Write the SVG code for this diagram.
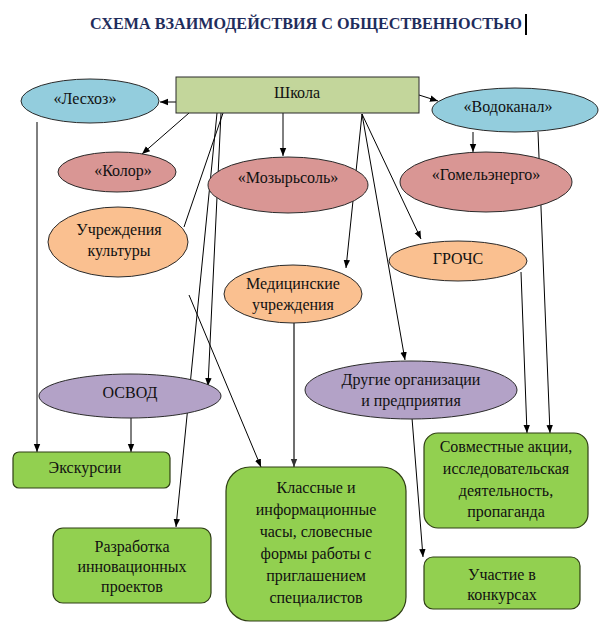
<svg xmlns="http://www.w3.org/2000/svg" width="609" height="632" viewBox="0 0 609 632" font-family="'Liberation Serif', 'Times New Roman', serif">
<defs>
<marker id="arr" markerUnits="userSpaceOnUse" markerWidth="8" markerHeight="8" viewBox="0 0 8 8" refX="8" refY="4" orient="auto">
<path d="M0,0.8 L8,4 L0,7.2 Z" fill="#000"/>
</marker>
<marker id="arrg" markerUnits="userSpaceOnUse" markerWidth="8" markerHeight="8" viewBox="0 0 8 8" refX="8" refY="4" orient="auto">
<path d="M0,0.8 L8,4 L0,7.2 Z" fill="#333"/>
</marker>
<style>
text{font-size:16px;fill:#111;text-anchor:middle;dominant-baseline:middle}
.title{font-size:16px;font-weight:bold;fill:#1f2d5c}
.shape{stroke:#2a2a2a;stroke-width:1}
.blue{fill:#93cddd}
.pink{fill:#d99694}
.orange{fill:#fac090}
.purple{fill:#b3a2c7}
.green{fill:#92d050;stroke:#2f3f14;stroke-width:1.2}
.olive{fill:#c3d69b}
.ln{stroke:#000;stroke-width:1;fill:none;marker-end:url(#arr)}
.plain{stroke:#000;stroke-width:1;fill:none}
.gray{stroke:#6f6f6f;stroke-width:2;fill:none;marker-end:url(#arrg)}
</style>
</defs>
<rect width="609" height="632" fill="#fff"/>
<text class="title" x="306" y="25" textLength="432" lengthAdjust="spacingAndGlyphs">СХЕМА ВЗАИМОДЕЙСТВИЯ С ОБЩЕСТВЕННОСТЬЮ</text>
<line x1="526" y1="14" x2="526" y2="35" stroke="#000" stroke-width="2"/>

<g id="connectors">
<line class="ln" x1="176" y1="102" x2="160" y2="102"/>
<line class="ln" x1="419" y1="95" x2="438" y2="101"/>
<line class="ln" x1="189" y1="113" x2="142" y2="154"/>
<line class="ln" x1="283" y1="113" x2="283" y2="156"/>
<line class="plain" x1="223" y1="113" x2="184" y2="227"/>
<line class="ln" x1="217" y1="113" x2="176" y2="527"/>
<line class="ln" x1="221" y1="113" x2="208" y2="386"/>
<line class="ln" x1="189" y1="295" x2="261" y2="467"/>
<line class="ln" x1="362" y1="114" x2="346" y2="268"/>
<line class="ln" x1="362" y1="114" x2="405" y2="360"/>
<line class="ln" x1="362" y1="114" x2="421" y2="239"/>
<line class="ln" x1="473" y1="132" x2="473" y2="152"/>
<line class="ln" x1="538" y1="132" x2="550" y2="433"/>
<line class="ln" x1="521" y1="272" x2="527" y2="433"/>
<line class="ln" x1="37" y1="122" x2="37" y2="452"/>
<line class="ln" x1="131" y1="418" x2="131" y2="452"/>
<line class="gray" x1="294" y1="323" x2="294" y2="467"/>
<line class="ln" x1="412" y1="418" x2="423" y2="557"/>
</g>

<g id="school">
<rect class="shape olive" x="176" y="77" width="243" height="36"/>
<text x="297" y="94">Школа</text>
</g>
<g id="leshoz">
<ellipse class="shape blue" cx="90" cy="101" rx="69" ry="22"/>
<text x="85" y="100">«Лесхоз»</text>
</g>
<g id="vodokanal">
<ellipse class="shape blue" cx="515" cy="110" rx="83" ry="22"/>
<text x="508" y="108">«Водоканал»</text>
</g>
<g id="kolor">
<ellipse class="shape pink" cx="117" cy="172" rx="59" ry="20"/>
<text x="123" y="172">«Колор»</text>
</g>
<g id="mozyrsol">
<ellipse class="shape pink" cx="288" cy="185" rx="80" ry="28"/>
<text x="288" y="179">«Мозырьсоль»</text>
</g>
<g id="gomelenergo">
<ellipse class="shape pink" cx="486" cy="182" rx="86" ry="30"/>
<text x="486" y="176">«Гомельэнерго»</text>
</g>
<g id="kultura">
<ellipse class="shape orange" cx="118" cy="242" rx="70" ry="35"/>
<text x="119" y="231">Учреждения</text>
<text x="119" y="252">культуры</text>
</g>
<g id="grochs">
<ellipse class="shape orange" cx="458" cy="261" rx="69" ry="20"/>
<text x="458" y="260">ГРОЧС</text>
</g>
<g id="med">
<ellipse class="shape orange" cx="293" cy="294" rx="69" ry="29"/>
<text x="293" y="285">Медицинские</text>
<text x="293" y="306">учреждения</text>
</g>
<g id="osvod">
<ellipse class="shape purple" cx="130" cy="396" rx="91" ry="22"/>
<text x="130" y="394">ОСВОД</text>
</g>
<g id="drugie">
<ellipse class="shape purple" cx="411" cy="390" rx="106" ry="29"/>
<text x="411" y="381">Другие организации</text>
<text x="411" y="402">и предприятия</text>
</g>
<g id="ekskursii">
<rect class="green" x="13" y="452" width="157" height="36" rx="6"/>
<text x="85" y="469">Экскурсии</text>
</g>
<g id="razrabotka">
<rect class="green" x="53" y="528" width="158" height="75" rx="10"/>
<text x="132" y="548">Разработка</text>
<text x="132" y="568">инновационных</text>
<text x="132" y="588">проектов</text>
</g>
<g id="klassnye">
<rect class="green" x="226" y="467" width="180" height="154" rx="24"/>
<text x="316" y="489">Классные и</text>
<text x="316" y="511">информационные</text>
<text x="316" y="533">часы,  словесные</text>
<text x="316" y="555">формы работы с</text>
<text x="316" y="577">приглашением</text>
<text x="316" y="599">специалистов</text>
</g>
<g id="sovmestnye">
<rect class="green" x="424" y="433" width="164" height="95" rx="14"/>
<text x="506" y="448">Совместные акции,</text>
<text x="506" y="470">исследовательская</text>
<text x="506" y="492">деятельность,</text>
<text x="506" y="513">пропаганда</text>
</g>
<g id="uchastie">
<rect class="green" x="424" y="557" width="156" height="52" rx="9"/>
<text x="502" y="576">Участие в</text>
<text x="502" y="596">конкурсах</text>
</g>
</svg>
